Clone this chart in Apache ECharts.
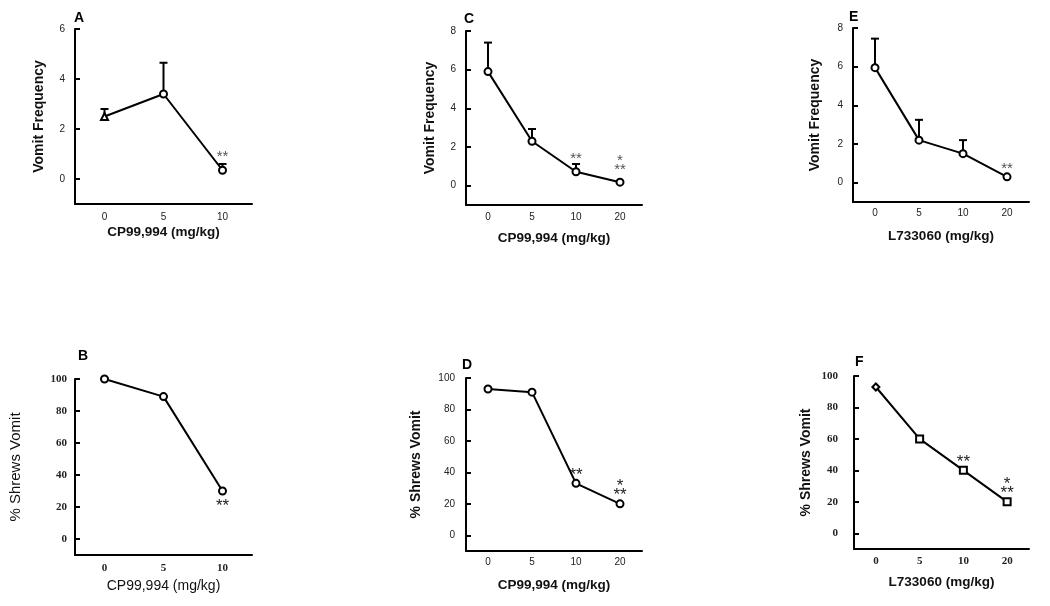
<!DOCTYPE html>
<html><head><meta charset="utf-8">
<script src="https://cdn.jsdelivr.net/npm/echarts@6/dist/echarts.min.js"></script>
<style>html,body{margin:0;padding:0;background:#fff}#c{width:1050px;height:606px}</style>
</head><body><div id="c"></div>
<script>
// ---- data ----
const dosesA = ['0', '5', '10'];
const dosesC = ['0', '5', '10', '20'];
const dosesE = ['0', '5', '10', '20'];
const dosesB = ['0', '5', '10'];
const dosesD = ['0', '5', '10', '20'];
const dosesF = ['0', '5', '10', '20'];

const vomitA = [2.5, 3.4, 0.35];
const semA = [0.3, 1.25, 0.25];
const sigA = ['', '', '**'];

const vomitC = [5.9, 2.3, 0.72, 0.18];
const semC = [1.5, 0.63, 0.4, 0];
const sigC = ['', '', '**', '*\n**'];

const vomitE = [5.95, 2.2, 1.5, 0.3];
const semE = [1.5, 1.05, 0.7, 0];
const sigE = ['', '', '', '**'];

const pctB = [100, 89, 30];
const sigB = ['', '', '**'];

const pctD = [93, 91, 33, 20];
const sigD = ['', '', '**', '*\n**'];

const pctF = [93, 60, 40, 20];
const sigF = ['', '', '**', '*\n**'];

const ticksVomit6 = [0, 2, 4, 6];
const ticksVomit8 = [0, 2, 4, 6, 8];
const ticksPct = [0, 20, 40, 60, 80, 100];

// ---- panels ----
const SANS = '"Liberation Sans", Arial, sans-serif';
const SERIF = '"Liberation Serif", "Times New Roman", serif';
const panels = [
  {letter: 'A', lx: 80, ly: 19, cats: dosesA, mean: vomitA, err: semA, sig: sigA, yMin: -1, yMax: 6, ticks: ticksVomit6,
   yName: 'Vomit Frequency', xName: 'CP99,994 (mg/kg)', grid: {left: 75, top: 29, width: 177, height: 175},
   yGap: 29, xGap: 21, yNameFont: {size: 14, weight: 'bold'}, xNameFont: {size: 13.5, weight: 'bold'},
   tickFont: {family: SANS, size: 10, weight: 'normal'}, yLabMargin: 10, xLabMargin: 8,
   sigFont: 15, sigColor: '#555', sigMode: 'above', sigGap: 9, symbols: ['triangle', 'circle', 'circle']},
  {letter: 'C', lx: 470, ly: 20, cats: dosesC, mean: vomitC, err: semC, sig: sigC, yMin: -1, yMax: 8, ticks: ticksVomit8,
   yName: 'Vomit Frequency', xName: 'CP99,994 (mg/kg)', grid: {left: 466, top: 31, width: 176, height: 174},
   yGap: 29, xGap: 26, yNameFont: {size: 14, weight: 'bold'}, xNameFont: {size: 13.5, weight: 'bold'},
   tickFont: {family: SANS, size: 10, weight: 'normal'}, yLabMargin: 10, xLabMargin: 7,
   sigFont: 15, sigColor: '#555', sigMode: 'above', sigGap: 8},
  {letter: 'E', lx: 855, ly: 18, cats: dosesE, mean: vomitE, err: semE, sig: sigE, yMin: -1, yMax: 8, ticks: ticksVomit8,
   yName: 'Vomit Frequency', xName: 'L733060 (mg/kg)', grid: {left: 853, top: 28, width: 176, height: 174},
   yGap: 31, xGap: 27, yNameFont: {size: 14, weight: 'bold'}, xNameFont: {size: 13.5, weight: 'bold'},
   tickFont: {family: SANS, size: 10, weight: 'normal'}, yLabMargin: 10, xLabMargin: 6,
   sigFont: 15, sigColor: '#555', sigMode: 'above', sigGap: 4},
  {letter: 'B', lx: 84, ly: 357, cats: dosesB, mean: pctB, err: null, sig: sigB, yMin: -10, yMax: 100, ticks: ticksPct,
   yName: '% Shrews Vomit', xName: 'CP99,994 (mg/kg)', grid: {left: 75, top: 379, width: 177, height: 176},
   yGap: 52, xGap: 24, yNameFont: {size: 15, weight: 'normal'}, xNameFont: {size: 14, weight: 'normal'},
   tickFont: {family: SERIF, size: 11, weight: 'bold'}, yLabMargin: 8, xLabMargin: 8,
   sigFont: 17, sigColor: '#222', sigMode: 'below', sigGap: 11},
  {letter: 'D', lx: 468, ly: 366, cats: dosesD, mean: pctD, err: null, sig: sigD, yMin: -10, yMax: 100, ticks: ticksPct,
   yName: '% Shrews Vomit', xName: 'CP99,994 (mg/kg)', grid: {left: 466, top: 378, width: 176, height: 173},
   yGap: 43, xGap: 27, yNameFont: {size: 14, weight: 'bold'}, xNameFont: {size: 13.5, weight: 'bold'},
   tickFont: {family: SANS, size: 10, weight: 'normal'}, yLabMargin: 11, xLabMargin: 6,
   sigFont: 17, sigColor: '#222', sigMode: 'above', sigGap: 4},
  {letter: 'F', lx: 861, ly: 363, cats: dosesF, mean: pctF, err: null, sig: sigF, yMin: -10, yMax: 100, ticks: ticksPct,
   yName: '% Shrews Vomit', xName: 'L733060 (mg/kg)', grid: {left: 854, top: 376, width: 175, height: 173},
   yGap: 41, xGap: 26, yNameFont: {size: 14, weight: 'bold'}, xNameFont: {size: 13.5, weight: 'bold'},
   tickFont: {family: SERIF, size: 11, weight: 'bold'}, yLabMargin: 16, xLabMargin: 7,
   sigFont: 17, sigColor: '#222', sigMode: 'above', sigGap: 4, symbols: ['diamond', 'rect', 'rect', 'rect']}
];

const grids = [], xAxes = [], yAxes = [], series = [], graphics = [];
panels.forEach((p, k) => {
  grids.push(Object.assign({containLabel: false}, p.grid));
  xAxes.push({
    type: 'category', gridIndex: k, data: p.cats, boundaryGap: true,
    name: p.xName, nameLocation: 'middle', nameGap: p.xGap,
    nameTextStyle: {fontFamily: SANS, fontSize: p.xNameFont.size, fontWeight: p.xNameFont.weight, color: '#111'},
    axisLine: {onZero: false, lineStyle: {color: '#000', width: 2}},
    axisTick: {alignWithLabel: true, inside: true, length: 5, lineStyle: {color: '#000', width: 2}},
    axisLabel: {margin: p.xLabMargin, fontFamily: p.tickFont.family, fontSize: p.tickFont.size,
      fontWeight: p.tickFont.weight, color: '#222'},
    splitLine: {show: false}
  });
  yAxes.push({
    type: 'value', gridIndex: k, min: p.yMin, max: p.yMax,
    name: p.yName, nameLocation: 'middle', nameGap: p.yGap, nameRotate: 90,
    nameTextStyle: {fontFamily: SANS, fontSize: p.yNameFont.size, fontWeight: p.yNameFont.weight, color: '#111'},
    axisLine: {show: true, onZero: false, lineStyle: {color: '#000', width: 2}},
    axisTick: {show: true, inside: true, length: 5, customValues: p.ticks, lineStyle: {color: '#000', width: 2}},
    axisLabel: {customValues: p.ticks, margin: p.yLabMargin, fontFamily: p.tickFont.family,
      fontSize: p.tickFont.size, fontWeight: p.tickFont.weight, color: '#222'},
    splitLine: {show: false}
  });
  const pp = p;
  series.push({
    type: 'custom', xAxisIndex: k, yAxisIndex: k, z: 1, silent: true,
    data: p.mean.map((m, i) => [i, m, p.err ? p.err[i] : 0]),
    renderItem: function (params, api) {
      const i = api.value(0), m = api.value(1), e = api.value(2);
      const pt = api.coord([i, m]);
      const ch = [];
      if (e > 0) {
        const tp = api.coord([i, m + e]);
        ch.push({type: 'line', shape: {x1: pt[0], y1: pt[1], x2: tp[0], y2: tp[1]}, style: {stroke: '#000', lineWidth: 2}});
        ch.push({type: 'line', shape: {x1: tp[0] - 4, y1: tp[1], x2: tp[0] + 4, y2: tp[1]}, style: {stroke: '#000', lineWidth: 2}});
      }
      const s = pp.sig[params.dataIndex];
      if (s) {
        const above = pp.sigMode === 'above';
        ch.push({type: 'text', z2: 10, style: {
          text: s, x: pt[0], y: above ? pt[1] - pp.sigGap : pt[1] + pp.sigGap,
          align: 'center', verticalAlign: above ? 'bottom' : 'top',
          font: pp.sigFont + 'px ' + SANS, lineHeight: 9, fill: pp.sigColor
        }});
      }
      return {type: 'group', children: ch};
    }
  });
  series.push({
    type: 'line', xAxisIndex: k, yAxisIndex: k, z: 3,
    data: p.mean.map((m, i) => ({value: m, symbol: p.symbols ? p.symbols[i] : 'circle'})),
    symbolSize: 7, showSymbol: true,
    lineStyle: {color: '#000', width: 2},
    itemStyle: {color: '#fff', borderColor: '#000', borderWidth: 2},
    emphasis: {disabled: true}
  });
  graphics.push({type: 'text', left: p.lx - 6, top: p.ly - 8,
    style: {text: p.letter, font: 'bold 14px ' + SANS, fill: '#000'}});
});

const chart = echarts.init(document.getElementById('c'), null, {renderer: 'canvas'});
chart.setOption({
  animation: false,
  backgroundColor: '#fff',
  grid: grids, xAxis: xAxes, yAxis: yAxes, series: series, graphic: graphics
});
</script>
</body></html>
